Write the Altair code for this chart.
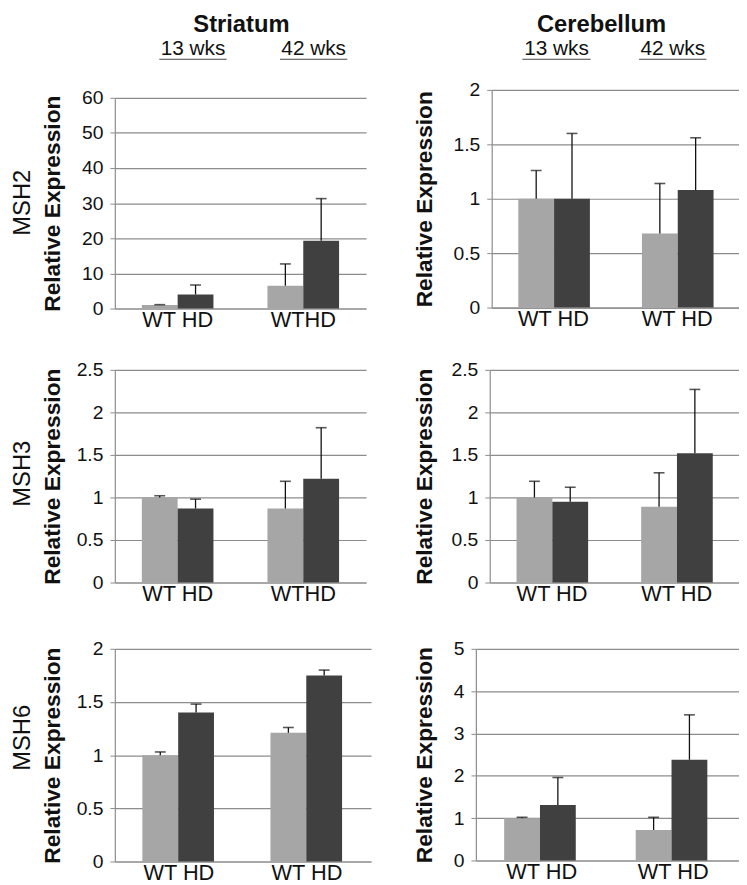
import altair as alt
import pandas as pd

AGES = ["13 wks", "42 wks"]
GENOTYPES = ["WT", "HD"]
REGIONS = ["Striatum", "Cerebellum"]
GENES = ["MSH2", "MSH3", "MSH6"]
COLORS = ["#a6a6a6", "#404040"]

# values in order: 13 wks WT, 13 wks HD, 42 wks WT, 42 wks HD
msh2_striatum_mean = [1.0, 4.0, 6.5, 19.3]
msh2_striatum_upper = [1.1, 6.7, 12.7, 31.3]
msh2_cerebellum_mean = [1.0, 1.0, 0.68, 1.08]
msh2_cerebellum_upper = [1.26, 1.6, 1.14, 1.56]
msh3_striatum_mean = [1.0, 0.87, 0.87, 1.22]
msh3_striatum_upper = [1.02, 0.98, 1.19, 1.82]
msh3_cerebellum_mean = [1.0, 0.95, 0.89, 1.52]
msh3_cerebellum_upper = [1.19, 1.12, 1.29, 2.27]
msh6_striatum_mean = [1.0, 1.40, 1.21, 1.75]
msh6_striatum_upper = [1.03, 1.48, 1.26, 1.80]
msh6_cerebellum_mean = [1.0, 1.31, 0.72, 2.38]
msh6_cerebellum_upper = [1.02, 1.96, 1.02, 3.44]

msh2_striatum_ticks = [0, 10, 20, 30, 40, 50, 60]
msh2_cerebellum_ticks = [0, 0.5, 1, 1.5, 2]
msh3_striatum_ticks = [0, 0.5, 1, 1.5, 2, 2.5]
msh3_cerebellum_ticks = [0, 0.5, 1, 1.5, 2, 2.5]
msh6_striatum_ticks = [0, 0.5, 1, 1.5, 2]
msh6_cerebellum_ticks = [0, 1, 2, 3, 4, 5]

msh2_striatum_xlabels = ["WT HD", "WTHD"]
msh2_cerebellum_xlabels = ["WT HD", "WT HD"]
msh3_striatum_xlabels = ["WT HD", "WTHD"]
msh3_cerebellum_xlabels = ["WT HD", "WT HD"]
msh6_striatum_xlabels = ["WT HD", "WT HD"]
msh6_cerebellum_xlabels = ["WT HD", "WT HD"]

FONT = "Liberation Sans"
GRID = "#8c8c8c"
INK = "#111111"


def one():
    return alt.Chart(pd.DataFrame({"k": [0]}))


def panel(mean, upper, ticks, xlabels, width, height, title_x, yrange=None, xstart=0, annots=()):
    rows = []
    for i, a in enumerate(AGES):
        for j, g in enumerate(GENOTYPES):
            k = i * 2 + j
            rows.append({"age": a, "geno": g, "value": mean[k], "upper": upper[k]})
    df = pd.DataFrame(rows)
    label_expr = "datum.value == '%s' ? '%s' : '%s'" % (AGES[0], xlabels[0], xlabels[1])
    sc = dict(domain=[ticks[0], ticks[-1]], nice=False, zero=True)
    if yrange is not None:
        sc["range"] = yrange
    yscale = alt.Scale(**sc)
    xsc = dict(paddingInner=0.43, paddingOuter=0.215)
    if xstart:
        xsc["range"] = [xstart, width]
    xscale = alt.Scale(**xsc)
    xaxis = alt.Axis(title=None, labelExpr=label_expr, labelAngle=0, ticks=False,
                     labelPadding=1, labelFontSize=22, labelFont=FONT, labelColor=INK,
                     domainColor=GRID, domainWidth=1.2, labelBaseline="top")
    yaxis_kw = dict(values=ticks, format="~r", title="Relative Expression",
                    titleX=title_x, titleAngle=270, titleBaseline="alphabetic",
                    titleFont=FONT, titleFontSize=23, titleFontWeight="bold", titleColor=INK,
                    labelFont=FONT, labelFontSize=19.5, labelColor=INK, labelPadding=7,
                    tickSize=5, tickColor=GRID, domainColor=GRID, domainWidth=1.2,
                    gridColor=GRID, gridWidth=1.2)
    if xstart:
        yaxis_kw["offset"] = -xstart
    yaxis = alt.Axis(**yaxis_kw)
    x = alt.X("age:N", sort=AGES, scale=xscale, axis=xaxis)
    xo = alt.XOffset("geno:N", sort=GENOTYPES, scale=alt.Scale(paddingInner=0, paddingOuter=0))
    y = alt.Y("value:Q", scale=yscale, axis=yaxis)
    yu = alt.Y("upper:Q", scale=yscale, axis=yaxis)
    base = alt.Chart(df)
    bars = base.mark_bar().encode(
        x=x, xOffset=xo, y=y,
        color=alt.Color("geno:N", scale=alt.Scale(domain=GENOTYPES, range=COLORS), legend=None))
    rule = base.mark_rule(color=INK, strokeWidth=1.3).encode(
        x=x, xOffset=xo, y=y, y2="upper:Q")
    cap = base.mark_tick(color=INK, thickness=1.6, size=11).encode(
        x=x, xOffset=xo, y=yu)
    layers = [bars, rule, cap]
    for a in annots:
        kind = a[0]
        if kind == "text":
            _, txt, xx, yy, size, weight, angle = a
            kw = dict(text=txt, font=FONT, fontSize=size, fontWeight=weight, color=INK,
                      align="center", baseline="alphabetic")
            if angle:
                kw["angle"] = angle
            layers.append(one().mark_text(**kw).encode(x=alt.value(xx), y=alt.value(yy)))
        else:
            _, x1, x2, yy = a
            layers.append(one().mark_rule(color="#444444", strokeWidth=1.2).encode(
                x=alt.value(x1), x2=alt.value(x2), y=alt.value(yy)))
    return alt.layer(*layers).properties(width=width, height=height)


TITLE_Y = -59
WKS_Y = -35
UL_Y = -31
MSH_X = -85.5

p11 = panel(msh2_striatum_mean, msh2_striatum_upper, msh2_striatum_ticks, msh2_striatum_xlabels,
            254, 221, -56, yrange=[221, 8],
            annots=[("text", REGIONS[0], 128, TITLE_Y, 24, "bold", 0),
                    ("text", AGES[0], 79, WKS_Y, 21, "normal", 0),
                    ("text", AGES[1], 201, WKS_Y, 21, "normal", 0),
                    ("ul", 45, 113, UL_Y), ("ul", 167, 235, UL_Y),
                    ("text", GENES[0], MSH_X, 114, 24, "normal", 270)])
p12 = panel(msh2_cerebellum_mean, msh2_cerebellum_upper, msh2_cerebellum_ticks, msh2_cerebellum_xlabels,
            266, 220, -61, xstart=16,
            annots=[("text", REGIONS[1], 127, TITLE_Y, 24, "bold", 0),
                    ("text", AGES[0], 81.5, WKS_Y, 21, "normal", 0),
                    ("text", AGES[1], 199, WKS_Y, 21, "normal", 0),
                    ("ul", 47, 116, UL_Y), ("ul", 165, 233, UL_Y)])
p21 = panel(msh3_striatum_mean, msh3_striatum_upper, msh3_striatum_ticks, msh3_striatum_xlabels,
            254, 215, -56,
            annots=[("text", GENES[1], MSH_X, 105, 24, "normal", 270)])
p22 = panel(msh3_cerebellum_mean, msh3_cerebellum_upper, msh3_cerebellum_ticks, msh3_cerebellum_xlabels,
            266, 215, -59, xstart=14)
p31 = panel(msh6_striatum_mean, msh6_striatum_upper, msh6_striatum_ticks, msh6_striatum_xlabels,
            259, 220, -56, yrange=[220, 5],
            annots=[("text", GENES[2], MSH_X, 95, 24, "normal", 270)])
p32 = panel(msh6_cerebellum_mean, msh6_cerebellum_upper, msh6_cerebellum_ticks, msh6_cerebellum_xlabels,
            266, 219, -45, yrange=[219, 5])

chart = (alt.concat(p11, p12, p21, p22, p31, p32, columns=2,
                    spacing={"row": 62, "column": 106}, bounds="flush")
         .properties(padding={"left": 3, "top": 0, "right": 0, "bottom": 0}, background="white")
         .configure_view(stroke=None))

chart.save("out.html", embed_options={"renderer": "svg", "actions": False})
